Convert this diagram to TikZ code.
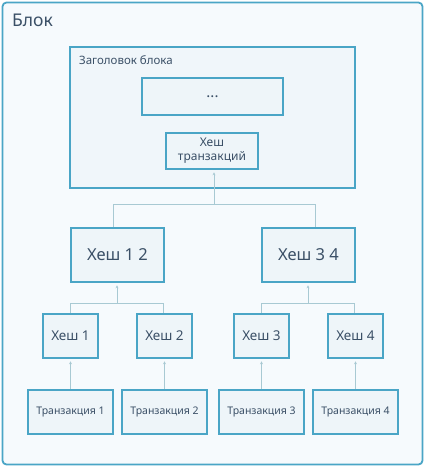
\documentclass[tikz,border=0pt]{standalone}
\usepackage{fontspec}
\setmainfont{Noto Sans}
\usetikzlibrary{arrows.meta}
\definecolor{bord}{HTML}{4AA5C6}
\definecolor{outerfill}{HTML}{F6FAFD}
\definecolor{boxfill}{HTML}{EEF5F9}
\definecolor{hdrfill}{HTML}{F0F6FA}
\definecolor{txt}{HTML}{3B5067}
\definecolor{conn}{HTML}{A8C9D3}
\begin{document}
\begin{tikzpicture}[x=1pt,y=-1pt,
  box/.style={draw=bord, line width=1.6pt, fill=boxfill, text=txt, inner sep=0pt, align=center},
  conn/.style={draw=conn, line width=0.9pt},
  arr/.style={conn, -{Stealth[length=3pt,width=3pt]}, shorten >=2.5pt}]
\useasboundingbox (0,0) rectangle (425,467);
\node[draw=bord, line width=1.8pt, fill=outerfill, rounded corners=4pt, minimum width=420pt, minimum height=462pt, inner sep=0pt] (block) at (212.5,233.5) {};
\node[anchor=base west, text=txt, font=\fontsize{17.5}{20}\selectfont, inner sep=0pt] (blocklbl) at (12,26) {Блок};
\node[box, fill=hdrfill, minimum width=285pt, minimum height=141pt] (hdr) at (212.5,117.5) {};
\node[anchor=base west, text=txt, font=\fontsize{11.5}{14}\selectfont, inner sep=0pt] (hdrlbl) at (79,64) {Заголовок блока};
\node[box, minimum width=141pt, minimum height=37pt, font=\fontsize{15}{17}\selectfont] (dots) at (212.5,96.5) {...};
\node[box, minimum width=92pt, minimum height=36pt, font=\fontsize{12}{14}\selectfont] (txh) at (212,151) {Хеш\\транзакций};
\node[box, minimum width=93pt, minimum height=54pt, font=\fontsize{16.5}{19}\selectfont] (h12) at (117.5,255) {Хеш 1 2};
\node[box, minimum width=93pt, minimum height=54pt, font=\fontsize{16.5}{19}\selectfont] (h34) at (308.5,255) {Хеш 3 4};
\foreach \n/\x/\k in {h1/70.5/1, h2/164.5/2, h3/261.5/3, h4/355.5/4} {
  \node[box, minimum width=55pt, minimum height=44pt, font=\fontsize{13.5}{16}\selectfont] (\n) at (\x,336) {Хеш \k};
}
\foreach \n/\x/\k in {t1/70.5/1, t2/164.5/2, t3/261.5/3, t4/355.5/4} {
  \node[box, minimum width=85pt, minimum height=44pt, font=\fontsize{10.5}{13}\selectfont] (\n) at (\x,412) {Транзакция \k};
}
\coordinate (j0) at (214,204);
\coordinate (jl) at (117,303);
\coordinate (jr) at (308,303);
\draw[conn] ([xshift=-4.5pt]h12.north) |- (j0);
\draw[conn] ([xshift=6.5pt]h34.north) |- (j0);
\draw[arr] (j0) -- (j0 |- txh.south);
\draw[conn] (h1.north) |- (jl);
\draw[conn] ([xshift=-1.5pt]h2.north) |- (jl);
\draw[arr] (jl) -- (jl |- h12.south);
\draw[conn] (h3.north) |- (jr);
\draw[conn] ([xshift=-1.5pt]h4.north) |- (jr);
\draw[arr] (jr) -- (jr |- h34.south);
\foreach \i in {1,2,3,4} {
  \draw[arr] (t\i.north) -- (h\i.south);
}
\end{tikzpicture}
\end{document}
